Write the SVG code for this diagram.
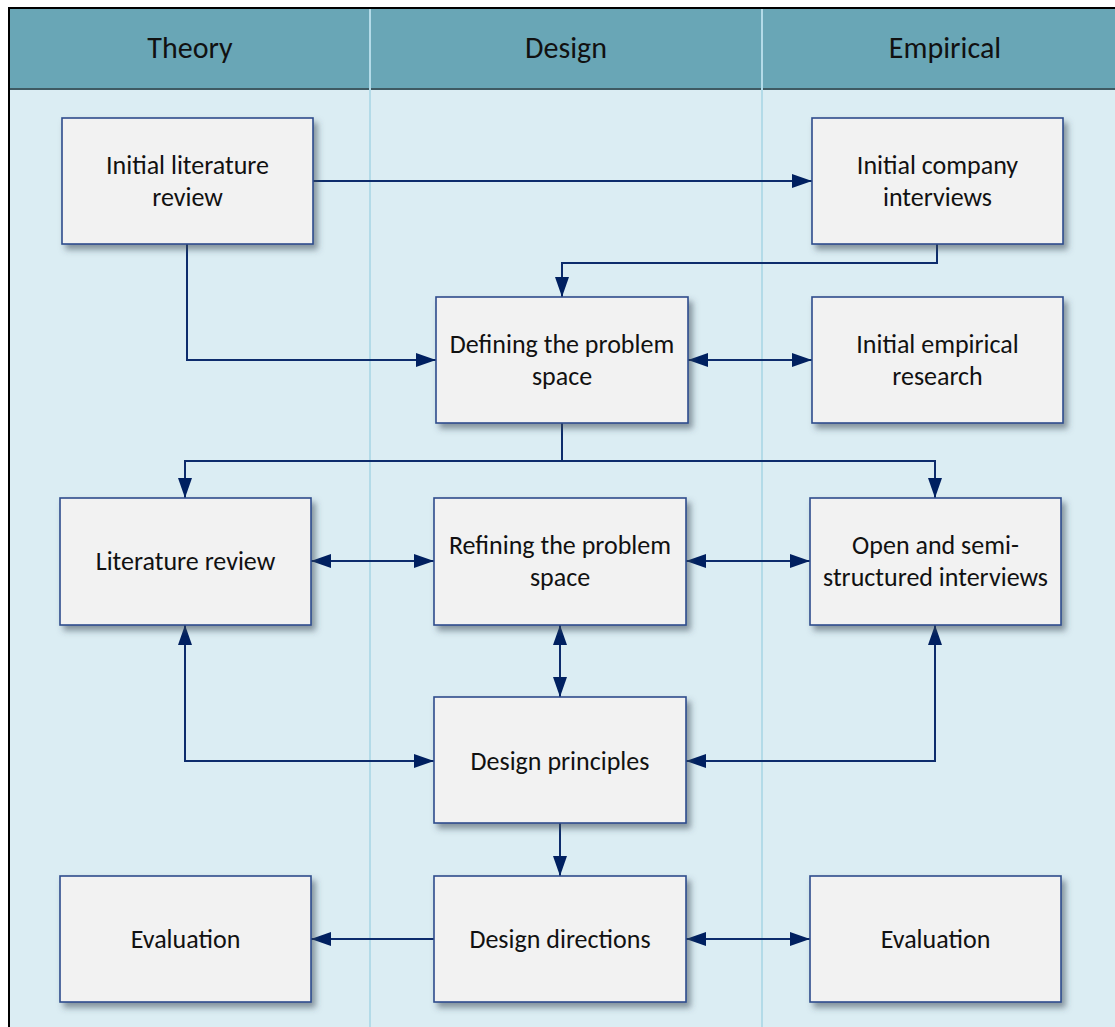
<svg xmlns="http://www.w3.org/2000/svg" width="1115" height="1027" viewBox="0 0 1115 1027">
  <defs>
    <style>
      .lane-head { fill: #69a6b6; }
      .lane-body { fill: #dbedf3; }
      .divider { stroke: #b3dbe8; stroke-width: 2; fill: none; }
      .box { fill: #f2f2f2; stroke: #2e4c8c; stroke-width: 1.6; filter: url(#shadow); }
      .label { font-family: Carlito, Lato, "Liberation Sans", sans-serif; font-size: 26px; fill: #111; text-anchor: middle; }
      .head { font-family: Carlito, Lato, "Liberation Sans", sans-serif; font-size: 30px; fill: #111; text-anchor: middle; }
      .wire { stroke: #0d2c6c; stroke-width: 2; fill: none; }
    </style>
    <filter id="shadow" x="-10%" y="-10%" width="130%" height="140%">
      <feDropShadow dx="4" dy="5" stdDeviation="3" flood-color="#3a4a55" flood-opacity="0.55"/>
    </filter>
    <marker id="head" viewBox="0 0 20 14" refX="20" refY="7" markerWidth="20" markerHeight="14" markerUnits="userSpaceOnUse" orient="auto-start-reverse">
      <path d="M0,0 L20,7 L0,14 Z" fill="#002060"/>
    </marker>
  </defs>

  <!-- swimlane frame -->
  <g id="lanes">
    <rect class="lane-body" x="9" y="8" width="1106" height="1019"/>
    <rect class="lane-head" x="9" y="8" width="1106" height="81"/>
    <line x1="9" y1="89" x2="1115" y2="89" stroke="#3f5a63" stroke-width="2"/>
    <line class="divider" x1="370" y1="8" x2="370" y2="1027"/>
    <line class="divider" x1="762" y1="8" x2="762" y2="1027"/>
    <path d="M9,1027 V8 H1115" stroke="#000" stroke-width="2" fill="none"/>
    <text class="head" x="190" y="58">Theory</text>
    <text class="head" x="566" y="58">Design</text>
    <text class="head" x="945" y="58">Empirical</text>
  </g>

  <!-- connectors -->
  <g id="connectors">
    <path class="wire" d="M313,181 H812" marker-end="url(#head)"/>
    <path class="wire" d="M937,244 V263 H562 V297" marker-end="url(#head)"/>
    <path class="wire" d="M187,244 V360 H436" marker-end="url(#head)"/>
    <path class="wire" d="M688,360 H812" marker-start="url(#head)" marker-end="url(#head)"/>
    <path class="wire" d="M562,423 V461 H185 V498" marker-end="url(#head)"/>
    <path class="wire" d="M562,461 H935 V498" marker-end="url(#head)"/>
    <path class="wire" d="M311,561 H434" marker-start="url(#head)" marker-end="url(#head)"/>
    <path class="wire" d="M686,561 H810" marker-start="url(#head)" marker-end="url(#head)"/>
    <path class="wire" d="M560,625 V697" marker-start="url(#head)" marker-end="url(#head)"/>
    <path class="wire" d="M185,625 V761 H434" marker-start="url(#head)" marker-end="url(#head)"/>
    <path class="wire" d="M935,625 V761 H686" marker-start="url(#head)" marker-end="url(#head)"/>
    <path class="wire" d="M560,823 V876" marker-end="url(#head)"/>
    <path class="wire" d="M434,939 H311" marker-end="url(#head)"/>
    <path class="wire" d="M686,939 H810" marker-start="url(#head)" marker-end="url(#head)"/>
  </g>

  <g id="initial-literature-review">
    <rect class="box" x="62" y="118" width="251" height="126"/>
    <text class="label" x="187.5" y="174">Initial literature</text>
    <text class="label" x="187.5" y="206">review</text>
  </g>
  <g id="initial-company-interviews">
    <rect class="box" x="812" y="118" width="251" height="126"/>
    <text class="label" x="937.5" y="174">Initial company</text>
    <text class="label" x="937.5" y="206">interviews</text>
  </g>
  <g id="defining-problem-space">
    <rect class="box" x="436" y="297" width="252" height="126"/>
    <text class="label" x="562" y="353">Defining the problem</text>
    <text class="label" x="562" y="385">space</text>
  </g>
  <g id="initial-empirical-research">
    <rect class="box" x="812" y="297" width="251" height="126"/>
    <text class="label" x="937.5" y="353">Initial empirical</text>
    <text class="label" x="937.5" y="385">research</text>
  </g>
  <g id="literature-review">
    <rect class="box" x="60" y="498" width="251" height="127"/>
    <text class="label" x="185.5" y="570">Literature review</text>
  </g>
  <g id="refining-problem-space">
    <rect class="box" x="434" y="498" width="252" height="127"/>
    <text class="label" x="560" y="554">Refining the problem</text>
    <text class="label" x="560" y="586">space</text>
  </g>
  <g id="interviews">
    <rect class="box" x="810" y="498" width="251" height="127"/>
    <text class="label" x="935.5" y="554">Open and semi-</text>
    <text class="label" x="935.5" y="586">structured interviews</text>
  </g>
  <g id="design-principles">
    <rect class="box" x="434" y="697" width="252" height="126"/>
    <text class="label" x="560" y="770">Design principles</text>
  </g>
  <g id="evaluation-theory">
    <rect class="box" x="60" y="876" width="251" height="126"/>
    <text class="label" x="185.5" y="948">Evaluation</text>
  </g>
  <g id="design-directions">
    <rect class="box" x="434" y="876" width="252" height="126"/>
    <text class="label" x="560" y="948">Design directions</text>
  </g>
  <g id="evaluation-empirical">
    <rect class="box" x="810" y="876" width="251" height="126"/>
    <text class="label" x="935.5" y="948">Evaluation</text>
  </g>
</svg>
